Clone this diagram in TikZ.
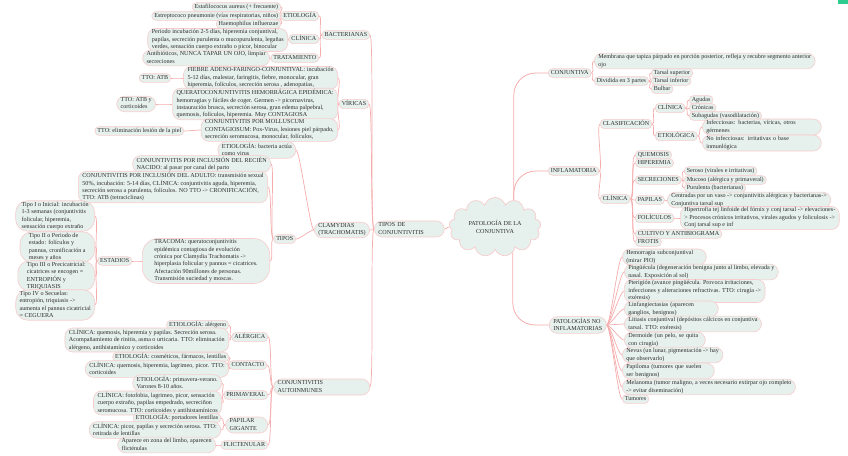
\documentclass[tikz,border=0pt]{standalone}
\usepackage{fontspec}
\setmainfont{Liberation Serif}
\usepackage{tikz}
\usetikzlibrary{shapes.symbols,backgrounds}
\definecolor{boxfill}{RGB}{230,240,237}
\definecolor{boxline}{RGB}{247,205,205}
\definecolor{linkpink}{RGB}{245,172,172}
\definecolor{inkgray}{RGB}{45,45,45}
\definecolor{badge}{RGB}{46,204,143}
\newcommand{\mstrut}{\rule[-1.6pt]{0pt}{6.2pt}}
\tikzset{
  topic/.style={draw=boxline, fill=boxfill, line width=0.6pt, rounded corners=4pt,
    inner xsep=2.5pt, inner ysep=1.2pt, align=left,
    execute at begin node=\mstrut, execute at end node=\mstrut},
  pill/.style={topic, rounded corners=8pt, inner xsep=4pt},
  linkr/.style={draw=linkpink, line width=0.7pt, out=0, in=180, distance=4pt},
  linkl/.style={draw=linkpink, line width=0.7pt, out=180, in=0, distance=4pt},
  trunk/.style={draw=linkpink, line width=0.8pt, rounded corners=22pt},
}
\begin{document}
\begin{tikzpicture}[x=1pt, y=-1pt, font=\fontsize{6.1}{7.4}\selectfont, text=inkgray]
\useasboundingbox (0,0) rectangle (848,455);
\fill[badge] (838,0) rectangle (848,4);
% centre
\node[cloud, cloud puffs=13, aspect=1.6, draw=boxline, fill=boxfill, line width=0.7pt,
  minimum width=92pt, minimum height=58pt, align=center, inner sep=0pt] (root) at (495,227)
  {PATOLOGÍA DE LA\\CONJUNTIVA};

% ---- right: conjuntiva
\node[topic, anchor=west] (conj) at (548,73) {CONJUNTIVA};
\node[pill, anchor=west] (memb) at (594,61) {Membrana que tapiza párpado en porción posterior, refleja y recubre segmento anterior\\ojo};
\node[topic, anchor=west] (div) at (594,81) {Dividida en 3 partes};
\node[topic, anchor=west] (tsup) at (651,73) {Tarsal superior};
\node[topic, anchor=west] (tinf) at (651,81) {Tarsal inferior};
\node[topic, anchor=west] (bulb) at (651,89) {Bulbar};

% ---- right: inflamatoria
\node[topic, anchor=west] (infl) at (548,171) {INFLAMATORIA};
\node[topic, anchor=west] (clasif) at (600,124) {CLASIFICACIÓN};
\node[topic, anchor=west] (clin1) at (655,108) {CLÍNICA};
\node[topic, anchor=west] (agud) at (689,100) {Agudas};
\node[topic, anchor=west] (cron) at (689,108) {Crónicas};
\node[topic, anchor=west] (subag) at (689,116) {Subagudas (vasodilatación)};
\node[topic, anchor=west] (etio1) at (655,136) {ETIOLÓGICA};
\node[pill, anchor=west, text width=111pt] (infec) at (702,127) {Infecciosas: bacterias, víricas, otros\\gérmenes};
\node[pill, anchor=west, text width=111pt] (noinf) at (702,143) {No infecciosas: irritativas o base\\inmunlógica};
\node[topic, anchor=west] (clin2) at (600,199) {CLÍNICA};
\node[topic, anchor=west] (quem) at (635,155) {QUEMOSIS};
\node[topic, anchor=west] (hiper) at (635,163) {HIPEREMIA};
\node[topic, anchor=west] (secr) at (635,180) {SECRECIONES};
\node[topic, anchor=west] (seroso) at (684,171) {Seroso (virales e irritativas)};
\node[topic, anchor=west] (mucoso) at (684,180) {Mucoso (alérgica y primaveral)};
\node[topic, anchor=west] (purul) at (684,188) {Purulenta (bacterianas)};
\node[topic, anchor=west] (papil) at (635,200) {PAPILAS};
\node[pill, anchor=west] (centr) at (667,200) {Centradas por un vaso -> conjuntivitis alérgicas y bacterianas->\\Conjuntiva tarsal sup};
\node[topic, anchor=west] (folic) at (635,218) {FOLÍCULOS};
\node[pill, anchor=west] (hipert) at (680,218) {Hipertrofia tej linfoide del fórnix y conj tarsal -> elevaciones-\\> Procesos crónicos irritativos, virales agudos y foliculosis ->\\Conj tarsal sup e inf};
\node[topic, anchor=west] (cult) at (635,234) {CULTIVO Y ANTIBIOGRAMA};
\node[topic, anchor=west] (frot) at (635,242) {FROTIS};

% ---- right: no inflamatorias
\node[pill, anchor=west] (pni) at (549,325) {PATOLOGÍAS NO\\INFLAMATORIAS};
\node[pill, anchor=west, text width=76pt] (hemo) at (622,257) {Hemorragia subconjuntival\\(mirar PIO)};
\node[pill, anchor=west] (ping) at (624,272) {Pingüécula (degeneración benigna junto al limbo, elevada y\\nasal. Exposición al sol)};
\node[pill, anchor=west] (pter) at (624,291) {Pterigión (avance pingüécula. Provoca irritaciones,\\infecciones y alteraciones refractivas. TTO: cirugía ->\\exéresis)};
\node[pill, anchor=west, text width=86pt] (linf) at (624,309) {Linfangiectasias (aparecen\\ganglios, benignos)};
\node[pill, anchor=west] (litia) at (624,324) {Litiasis conjuntival (depósitos cálcicos en conjuntiva\\tarsal. TTO: exéresis)};
\node[pill, anchor=west, text width=73pt] (derm) at (624,340) {Dermoide (un pelo, se quita\\con cirugía)};
\node[pill, anchor=west] (nevus) at (622,355) {Nevus (un lunar, pigmentación -> hay\\que observarlo)};
\node[pill, anchor=west, text width=84pt] (papilo) at (622,371) {Papiloma (tumores que suelen\\ser benignos)};
\node[pill, anchor=west] (melan) at (622,387) {Melanoma (tumor maligno, a veces necesario extirpar ojo completo\\-> evitar diseminación)};
\node[topic, anchor=west] (tumor) at (622,399) {Tumores};

% ---- left: tipos de conjuntivitis
\node[pill, anchor=west, text width=62pt] (tipos) at (374,229) {TIPOS DE\\CONJUNTIVITIS};

% bacterianas
\node[topic, anchor=east] (bact) at (370,35) {BACTERIANAS};
\node[topic, anchor=east] (etio2) at (319,16) {ETIOLOGÍA};
\node[topic, anchor=east] (estaf) at (281,7) {Estafilococus aureus (+ frecuente)};
\node[topic, anchor=east] (estrep) at (281,16) {Estreptococo pneumonie (vías respiratorias, niños)};
\node[topic, anchor=east] (haemo) at (281,24) {Haemophilus influenzae};
\node[topic, anchor=east] (clin3) at (319,39) {CLÍNICA};
\node[pill, anchor=east] (perio) at (288,40) {Periodo incubación 2-5 días, hiperemia conjuntival,\\papilas, secreción purulenta  o mucopurulenta, legañas\\verdes, sensación cuerpo extraño o picor, binocular};
\node[topic, anchor=east] (trat) at (319,58) {TRATAMIENTO};
\node[pill, anchor=east] (antib) at (270,58) {Antibióticos, NUNCA TAPAR UN OJO, limpiar\\secreciones};

% víricas
\node[topic, anchor=east] (vir) at (369,104) {VÍRICAS};
\node[pill, anchor=east] (fieb) at (338,78) {FIEBRE ADENO-FARINGO-CONJUNTIVAL: incubación\\5-12 días, malestar, faringitis, fiebre, monocular, gran\\hiperemia, folículos, secreción serosa , adenopatías,};
\node[topic, anchor=east] (ttoatb) at (171,78) {TTO: ATB};
\node[pill, anchor=east] (quer) at (338,104) {QUERATOCONJUNTIVITIS HEMORRÁGICA EPIDÉMICA:\\hemorragias y fáciles de coger. Germen -> picornavirus,\\instauración brusca, secreción serosa, gran edema palpebral,\\quemosis, folículos, hiperemia. Muy CONTAGIOSA};
\node[pill, anchor=east] (ttoatbc) at (156,104) {TTO: ATB y\\corticoides};
\node[pill, anchor=east] (moll) at (338,130) {CONJUNTIVITIS POR MOLLUSCUM\\CONTAGIOSUM: Pox-Virus, lesiones piel párpado,\\secreción seromucosa, monocular, folículos,};
\node[topic, anchor=east] (ttoelim) at (184,131) {TTO: eliminación lesión de la piel};

% clamydias
\node[pill, anchor=east] (clam) at (370,230) {CLAMYDIAS\\(TRACHOMATIS)};
\node[pill, anchor=east] (etio3) at (296,150) {ETIOLOGÍA: bacteria actúa\\como virus};
\node[topic, anchor=east] (tiposc) at (296,239) {TIPOS};
\node[pill, anchor=east] (recien) at (271,164) {CONJUNTIVITIS POR INCLUSIÓN DEL RECIÉN\\NACIDO: al pasar por canal del parto};
\node[pill, anchor=east] (adulto) at (268,187) {CONJUNTIVITIS POR INCLUSIÓN DEL ADULTO: transmisión sexual\\50\%, incubación: 5-14 días, CLÍNICA: conjuntivitis aguda, hiperemia,\\secreción serosa a purulenta, folículos. NO TTO -> CRONIFICACIÓN,\\TTO: ATB (tetraciclinas)};
\node[pill, anchor=east, rounded corners=16pt, inner xsep=12pt] (tracoma) at (270,261) {TRACOMA: queratoconjuntivitis\\epidémica contagiosa de evolución\\crónica por Clamydia Trachomatis ->\\hiperplasia folicular y pannus = cicatrices.\\Afectación 90millones de personas.\\Transmisión suciedad y moscas.};
\node[topic, anchor=east] (estad) at (132,261) {ESTADIOS};
\node[pill, anchor=east, rounded corners=12pt, inner xsep=6pt] (tipo1) at (95,216) {Tipo I o Inicial: incubación\\1-3 semanas (conjuntivitis\\folicular, hiperemia,\\sensación cuerpo extraño};
\node[pill, anchor=east, rounded corners=12pt, inner xsep=9pt] (tipo2) at (95,247) {Tipo II o Periodo de\\estado: folículos y\\pannus, cronificación a\\meses y años};
\node[pill, anchor=east, rounded corners=12pt, inner xsep=9pt] (tipo3) at (95,276) {Tipo III o Precicatricial:\\cicatrices se encogen =\\ENTROPIÓN y\\TRIQUIASIS};
\node[pill, anchor=east, rounded corners=12pt, inner xsep=4pt] (tipo4) at (95,305) {Tipo IV o Secuelas:\\entropión, triquiasis ->\\aumenta el pannus cicatricial\\= CEGUERA};

% autoinmunes
\node[pill, anchor=east, text width=88pt] (auto) at (370,387) {CONJUNTIVITIS\\AUTOINMUNES};
\node[topic, anchor=east] (alerg) at (268,337) {ALÉRGICA};
\node[topic, anchor=east] (etio4) at (229,325) {ETIOLOGÍA: alérgeno};
\node[pill, anchor=east] (clin4) at (229,340) {CLÍNICA: quemosis, hiperemia y papilas. Secreción serosa.\\Acompañamiento de rinitis, asma o urticaria. TTO: eliminación\\alérgeno, antihistamínico y corticoides};
\node[topic, anchor=east] (cont) at (267,365) {CONTACTO};
\node[topic, anchor=east] (etio5) at (229,357) {ETIOLOGÍA: cosméticos, fármacos, lentillas};
\node[pill, anchor=east] (clin5) at (229,369) {CLÍNICA: quemosis, hiperemia, lagrimeo, picor. TTO:\\corticoides};
\node[topic, anchor=east] (prim) at (268,395) {PRIMAVERAL};
\node[pill, anchor=east] (etio6) at (222,383) {ETIOLOGÍA: primavera-verano.\\Varones 8-10 años.};
\node[pill, anchor=east] (clin6) at (222,403) {CLÍNICA: fotofobia, lagrimeo, picor, sensación\\cuerpo extraño, papilas empedrado, secreciñon\\seromucosa. TTO: corticoides y antihistamínicos};
\node[pill, anchor=east, text width=34pt] (papg) at (268,425) {PAPILAR\\GIGANTE};
\node[topic, anchor=east] (etio7) at (221,418) {ETIOLOGÍA: portadores lentillas};
\node[pill, anchor=east] (clin7) at (221,430) {CLÍNICA: picor, papilas y secreción serosa. TTO:\\retirada de lentillas};
\node[topic, anchor=east] (flict) at (268,445) {FLICTENULAR};
\node[pill, anchor=east] (apar) at (216,445) {Aparece en zona del limbo, aparecen\\flicténulas};

% ---- connectors, behind the boxes
\begin{scope}[on background layer]
\draw[trunk] (root.55) |- (conj.west);
\draw[trunk] (root.55) |- (infl.west);
\draw[trunk] (root.-55) |- (pni.west);
\draw[linkl] (root.west) to (tipos.east);
\foreach \c in {memb,div} \draw[linkr] (conj.east) to (\c.west);
\foreach \c in {tsup,tinf,bulb} \draw[linkr] (div.east) to (\c.west);
\foreach \c in {clasif,clin2} \draw[linkr] (infl.east) to (\c.west);
\foreach \c in {clin1,etio1} \draw[linkr] (clasif.east) to (\c.west);
\foreach \c in {agud,cron,subag} \draw[linkr] (clin1.east) to (\c.west);
\foreach \c in {infec,noinf} \draw[linkr] (etio1.east) to (\c.west);
\foreach \c in {quem,hiper,secr,papil,folic,cult,frot} \draw[linkr] (clin2.east) to (\c.west);
\foreach \c in {seroso,mucoso,purul} \draw[linkr] (secr.east) to (\c.west);
\draw[linkr] (papil.east) to (centr.west);
\draw[linkr] (folic.east) to (hipert.west);
\foreach \c in {hemo,ping,pter,linf,litia,derm,nevus,papilo,melan,tumor}
  \draw[linkr] (pni.east) to (\c.west);
\foreach \c in {bact,vir,clam,auto} \draw[linkl] (tipos.west) to (\c.east);
\foreach \c in {etio2,clin3,trat} \draw[linkl] (bact.west) to (\c.east);
\foreach \c in {estaf,estrep,haemo} \draw[linkl] (etio2.west) to (\c.east);
\draw[linkl] (clin3.west) to (perio.east);
\draw[linkl] (trat.west) to (antib.east);
\foreach \c in {fieb,quer,moll} \draw[linkl] (vir.west) to (\c.east);
\draw[linkl] (fieb.west) to (ttoatb.east);
\draw[linkl] (quer.west) to (ttoatbc.east);
\draw[linkl] (moll.west) to (ttoelim.east);
\foreach \c in {etio3,tiposc} \draw[linkl] (clam.west) to (\c.east);
\foreach \c in {recien,adulto,tracoma} \draw[linkl] (tiposc.west) to (\c.east);
\draw[linkl] (tracoma.west) to (estad.east);
\foreach \c in {tipo1,tipo2,tipo3,tipo4} \draw[linkl] (estad.west) to (\c.east);
\foreach \c in {alerg,cont,prim,papg,flict} \draw[linkl] (auto.west) to (\c.east);
\foreach \c in {etio4,clin4} \draw[linkl] (alerg.west) to (\c.east);
\foreach \c in {etio5,clin5} \draw[linkl] (cont.west) to (\c.east);
\foreach \c in {etio6,clin6} \draw[linkl] (prim.west) to (\c.east);
\foreach \c in {etio7,clin7} \draw[linkl] (papg.west) to (\c.east);
\draw[linkl] (flict.west) to (apar.east);
\end{scope}
\end{tikzpicture}
\end{document}
